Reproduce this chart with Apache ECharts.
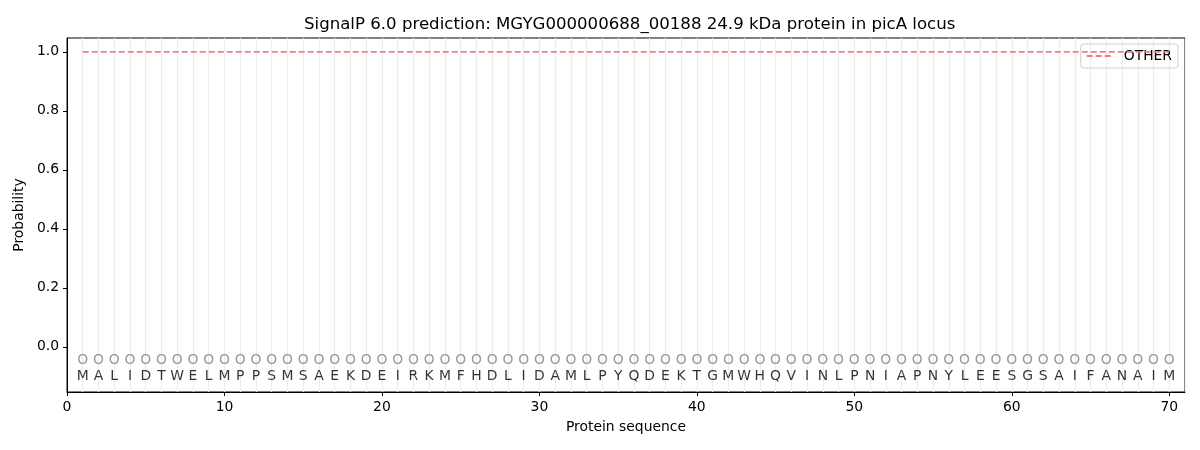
<!DOCTYPE html>
<html><head><meta charset="utf-8">
<script src="https://cdn.jsdelivr.net/npm/echarts@6/dist/echarts.min.js"></script>
<style>html,body{margin:0;padding:0;background:#fff}#c{width:1200px;height:450px}</style>
</head><body><div id="c"></div>
<script>
const sequence = "MALIDTWELMPPSMSAEKDEIRKMFHDLIDAMLPYQDEKTGMWHQVINLPNIAPNYLEESGSAIFANAIM".split("");
const positions = sequence.map((_, i) => i + 1);
const otherProb = positions.map(() => 1.0);
const predLabels = positions.map(() => "O");
const yTicks = [0, 0.2, 0.4, 0.6, 0.8, 1.0];
const xTicks = [0, 10, 20, 30, 40, 50, 60, 70];
const font = "DejaVu Sans";
const fs = 13.9;

const chart = echarts.init(document.getElementById('c'));
chart.setOption({
  animation: false,
  textStyle: {fontFamily: font},
  title: {text: "SignalP 6.0 prediction: MGYG000000688_00188 24.9 kDa protein in picA locus",
    left: 299, top: 11, textStyle: {fontFamily: font, fontSize: 16.6, fontWeight: 'normal', color: '#000'}},
  legend: {right: 22, top: 44, itemWidth: 26, itemHeight: 10, padding: [5, 6, 5, 5],
    borderColor: '#d0d0d0', borderWidth: 1, borderRadius: 3,
    itemStyle: {opacity: 0},
    textStyle: {fontFamily: font, fontSize: fs, color: '#000', padding: [0, 0, 0, 6]}, data: ['OTHER']},
  grid: {left: 67, right: 15, top: 38, bottom: 58, show: true, borderColor: '#000', borderWidth: 1, backgroundColor: 'transparent'},
  xAxis: [{
    type: 'value', min: 0, max: 71, interval: 10, position: 'bottom',
    name: 'Protein sequence', nameLocation: 'middle', nameGap: 28,
    nameTextStyle: {fontFamily: font, fontSize: fs, color: '#000'},
    axisLine: {show: true, onZero: false, lineStyle: {color: '#000'}},
    axisTick: {show: true, length: 4, lineStyle: {color: '#000'}, customValues: xTicks},
    axisLabel: {fontSize: fs, color: '#000', fontFamily: font, customValues: xTicks},
    splitLine: {show: false}
  }, {
    type: 'value', min: 0, max: 71, interval: 1, position: 'bottom',
    axisLine: {show: false, onZero: false}, axisTick: {show: false}, axisLabel: {show: false},
    splitLine: {show: true, lineStyle: {color: '#ececec', width: 1.2}}
  }],
  yAxis: {
    type: 'value', min: -0.153, max: 1.047,
    name: 'Probability', nameLocation: 'middle', nameGap: 40,
    nameTextStyle: {fontFamily: font, fontSize: fs, color: '#000'},
    axisLine: {show: true, onZero: false, lineStyle: {color: '#000'}},
    axisTick: {show: true, length: 4, lineStyle: {color: '#000'}, customValues: yTicks},
    axisLabel: {fontSize: fs, color: '#000', fontFamily: font, customValues: yTicks,
      formatter: v => v.toFixed(1)},
    splitLine: {show: false}
  },
  series: [
    {name: 'OTHER', type: 'line', symbol: 'none', xAxisIndex: 0,
      data: positions.map((p, i) => [p, otherProb[i]]),
      lineStyle: {color: '#f08080', width: 1.6, type: [6, 3]}, itemStyle: {color: '#f08080'}, z: 5},
    {name: 'pred', type: 'scatter', symbolSize: 0, xAxisIndex: 0, silent: true,
      data: positions.map((p, i) => ({value: [p, -0.047], lab: predLabels[i]})),
      label: {show: true, position: 'inside', formatter: d => d.data.lab, color: '#808080', fontSize: fs, fontFamily: font}},
    {name: 'seq', type: 'scatter', symbolSize: 0, xAxisIndex: 0, silent: true,
      data: positions.map((p, i) => ({value: [p, -0.1], lab: sequence[i]})),
      label: {show: true, position: 'inside', formatter: d => d.data.lab, color: '#000', fontSize: fs, fontFamily: font}}
  ]
});
</script></body></html>
